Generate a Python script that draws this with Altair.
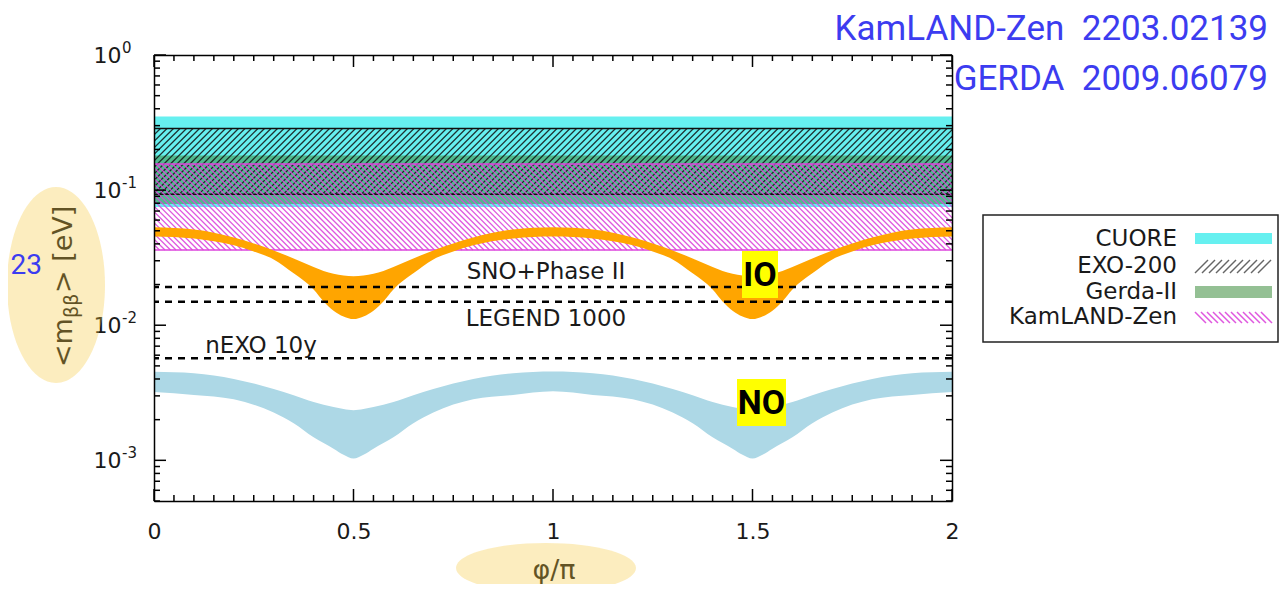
import altair as alt
import numpy as np
import pandas as pd

# ---------------- values ----------------
phi_io = [0.0, 0.1, 0.2, 0.25, 0.3, 0.35, 0.4, 0.425, 0.45, 0.475, 0.5,
          0.525, 0.55, 0.575, 0.6, 0.65, 0.7, 0.75, 0.8, 0.9, 1.0,
          1.1, 1.2, 1.25, 1.3, 1.35, 1.4, 1.425, 1.45, 1.475, 1.5,
          1.525, 1.55, 1.575, 1.6, 1.65, 1.7, 1.75, 1.8, 1.9, 2.0]
io_hi = [0.0530, 0.0511, 0.0446, 0.0403, 0.0358, 0.0312, 0.0270, 0.0252, 0.0240, 0.0233, 0.0230,
         0.0233, 0.0240, 0.0252, 0.0270, 0.0312, 0.0358, 0.0403, 0.0446, 0.0511, 0.0530,
         0.0511, 0.0446, 0.0403, 0.0358, 0.0312, 0.0270, 0.0252, 0.0240, 0.0233, 0.0230,
         0.0233, 0.0240, 0.0252, 0.0270, 0.0312, 0.0358, 0.0403, 0.0446, 0.0511, 0.0530]
io_lo = [0.0454, 0.0439, 0.0390, 0.0352, 0.0307, 0.0242, 0.0184, 0.0150, 0.0128, 0.0116, 0.0111,
         0.0116, 0.0128, 0.0150, 0.0184, 0.0242, 0.0307, 0.0352, 0.0390, 0.0439, 0.0454,
         0.0439, 0.0390, 0.0352, 0.0307, 0.0242, 0.0184, 0.0150, 0.0128, 0.0116, 0.0111,
         0.0116, 0.0128, 0.0150, 0.0184, 0.0242, 0.0307, 0.0352, 0.0390, 0.0439, 0.0454]

phi_no = [0.0, 0.1, 0.2, 0.3, 0.35, 0.4, 0.45, 0.475, 0.5, 0.525, 0.55, 0.6, 0.65, 0.7, 0.8, 0.9, 1.0,
          1.1, 1.2, 1.3, 1.35, 1.4, 1.45, 1.475, 1.5, 1.525, 1.55, 1.6, 1.65, 1.7, 1.8, 1.9, 2.0]
no_hi = [0.00452, 0.00441, 0.00400, 0.00337, 0.00303, 0.00270, 0.00248, 0.00240, 0.00235, 0.00240,
         0.00248, 0.00270, 0.00303, 0.00337, 0.00400, 0.00441, 0.00455,
         0.00441, 0.00400, 0.00337, 0.00303, 0.00270, 0.00248, 0.00240, 0.00235, 0.00240,
         0.00248, 0.00270, 0.00303, 0.00337, 0.00400, 0.00441, 0.00452]
no_lo = [0.00320, 0.00305, 0.00283, 0.00226, 0.00188, 0.00148, 0.00122, 0.00110, 0.00103, 0.00110,
         0.00122, 0.00148, 0.00188, 0.00226, 0.00283, 0.00305, 0.00325,
         0.00305, 0.00283, 0.00226, 0.00188, 0.00148, 0.00122, 0.00110, 0.00103, 0.00110,
         0.00122, 0.00148, 0.00188, 0.00226, 0.00283, 0.00305, 0.00320]

experiments = ["CUORE", "EXO-200", "Gerda-II", "KamLAND-Zen"]
band_lo = [0.075, 0.093, 0.079, 0.036]
band_hi = [0.35, 0.286, 0.18, 0.156]

sens_names = ["SNO+Phase II", "LEGEND 1000", "nEXO 10y"]
sens_values = [0.0192, 0.0149, 0.0057]

x_tick_labels = [0, 0.5, 1, 1.5, 2]
y_tick_labels = [0.001, 0.01, 0.1, 1]
y_tick_exponents = ["-3", "-2", "-1", "0"]

# ---------------- layout / style ----------------
W, H = 798, 446
PAD = {"left": 146, "top": 47, "right": 327, "bottom": 83}
YMIN, YMAX = 0.0005, 1.0
PX_PER_DEC = H / np.log10(YMAX / YMIN)
PX_PER_PHI = W / 2.0

C_CUORE = "#66f0f0"
C_GERDA = "#3c8c3c"
C_EXO = "#111111"
C_KAM = "#dc46dc"
BLUE = "#3c3cf0"
SANS = "DejaVu Sans"
NARROW = "Roboto"

xs = alt.Scale(domain=[0, 2], nice=False, zero=False)
ys = alt.Scale(type="log", domain=[YMIN, YMAX], nice=False)

x_tick_vals = [round(i * 0.05, 2) for i in range(41)]
y_tick_vals = [m * 10.0 ** e for e in (-4, -3, -2, -1) for m in range(1, 10) if m * 10.0 ** e >= YMIN * 0.999] + [1.0]


def frame_axis(orient):
    return alt.Axis(orient=orient, labels=False, title=None, grid=False, ticks=False,
                    domain=True, domainColor="black", domainWidth=1.5, zindex=1)


x_lab_axis = alt.Axis(orient="bottom", values=x_tick_labels, format="~g", ticks=False, domain=False,
                      grid=False, labelFont=SANS, labelFontSize=22, labelColor="#1a1a1a",
                      labelPadding=20, labelFlush=False, labelOverlap=False, title=None, zindex=0)
y_lab_axis = alt.Axis(orient="left", values=y_tick_labels, ticks=False, domain=False, grid=False,
                      labelExpr="'10'", labelFont=SANS, labelFontSize=22, labelColor="#1a1a1a",
                      labelPadding=33, labelFlush=False, labelOverlap=False, title=None, zindex=0)

bands = pd.DataFrame({"exp": experiments, "lo": band_lo, "hi": band_hi, "x0": 0.0, "x1": 2.0})


def band_rect(name, color, opacity, xaxis=None, yaxis=None):
    return alt.Chart(bands[bands.exp == name]).mark_rect(color=color, opacity=opacity).encode(
        x=alt.X("x0:Q", scale=xs, axis=xaxis), x2="x1:Q",
        y=alt.Y("lo:Q", scale=ys, axis=yaxis), y2="hi:Q")


def hatch(name, spacing_px, direction):
    lo = band_lo[experiments.index(name)]
    hi = band_hi[experiments.index(name)]
    dphi = np.log10(hi / lo) * PX_PER_DEC / PX_PER_PHI
    starts = np.arange(-dphi, 2.0 + dphi, spacing_px / PX_PER_PHI)
    if direction == "/":
        return pd.DataFrame({"x0": starts, "x1": starts + dphi, "y0": lo, "y1": hi})
    return pd.DataFrame({"x0": starts, "x1": starts + dphi, "y0": hi, "y1": lo})


def hatch_layer(df, color, opacity, width, xaxis=None, yaxis=None):
    return alt.Chart(df).mark_rule(color=color, strokeWidth=width, opacity=opacity, clip=True).encode(
        x=alt.X("x0:Q", scale=xs, axis=xaxis), x2="x1:Q",
        y=alt.Y("y0:Q", scale=ys, axis=yaxis), y2="y1:Q")


def border_rules(name, color):
    i = experiments.index(name)
    df = pd.DataFrame({"v": [band_lo[i], band_hi[i]]})
    return alt.Chart(df).mark_rule(color=color, strokeWidth=1.5).encode(
        y=alt.Y("v:Q", scale=ys, axis=None))


def ptext(txt, x, y, size, color="#1a1a1a", font=SANS, align="center", baseline="middle",
          weight="normal", angle=None):
    kw = dict(align=align, baseline=baseline, fontSize=size, font=font, color=color, fontWeight=weight)
    if angle is not None:
        kw["angle"] = angle
    return alt.Chart(pd.DataFrame({"t": [txt]})).mark_text(**kw).encode(
        x=alt.value(x), y=alt.value(y), text="t:N")


def prect(x, x2, y, y2, fill, opacity=1.0, stroke=None, sw=0):
    kw = dict(fill=fill, opacity=opacity)
    if stroke:
        kw.update(stroke=stroke, strokeWidth=sw)
    return alt.Chart(pd.DataFrame({"a": [0]})).mark_rect(**kw).encode(
        x=alt.value(x), x2=alt.value(x2), y=alt.value(y), y2=alt.value(y2))


def ellipse_path(a, b):
    k = 0.5523
    return (f"M {a} 0 C {a} {k*b} {k*a} {b} 0 {b} C {-k*a} {b} {-a} {k*b} {-a} 0 "
            f"C {-a} {-k*b} {-k*a} {-b} 0 {-b} C {k*a} {-b} {a} {-k*b} {a} 0 Z")


def ellipse(cx, cy, rx, ry):
    r = max(rx, ry)
    return alt.Chart(pd.DataFrame({"a": [0]})).mark_point(
        shape=ellipse_path(rx / r, ry / r), size=(2 * r) ** 2, filled=True, fill="#f5c83c",
        opacity=0.33, strokeWidth=0).encode(x=alt.value(cx), y=alt.value(cy))


# tick marks (inward, mirrored on all four sides)
xt = pd.DataFrame({"v": x_tick_vals})
xt["major"] = [abs(v * 2 - round(v * 2)) < 1e-6 for v in x_tick_vals]
yt = pd.DataFrame({"v": y_tick_vals})
yt["major"] = [abs(np.log10(v) - round(np.log10(v))) < 1e-6 for v in y_tick_vals]


def xticks(df, y0, y1):
    return alt.Chart(df).mark_rule(color="black", strokeWidth=1.5).encode(
        x=alt.X("v:Q", scale=xs, axis=None), y=alt.value(y0), y2=alt.value(y1))


def yticks(df, x0, x1):
    return alt.Chart(df).mark_rule(color="black", strokeWidth=1.5).encode(
        y=alt.Y("v:Q", scale=ys, axis=None), x=alt.value(x0), x2=alt.value(x1))


# ---------------- layers ----------------
layers = []
layers.append(band_rect("CUORE", C_CUORE, 1.0, x_lab_axis, y_lab_axis))
layers.append(band_rect("Gerda-II", C_GERDA, 0.55, frame_axis("bottom"), frame_axis("left")))
layers.append(hatch_layer(hatch("EXO-200", 6.5, "/"), C_EXO, 0.85, 1.3,
                          frame_axis("top"), frame_axis("right")))
layers.append(border_rules("EXO-200", "#111111"))
layers.append(hatch_layer(hatch("KamLAND-Zen", 5.5, "\\"), C_KAM, 0.9, 1.3))
layers.append(border_rules("KamLAND-Zen", C_KAM))

io_df = pd.DataFrame({"phi": phi_io, "lo": io_lo, "hi": io_hi})
no_df = pd.DataFrame({"phi": phi_no, "lo": no_lo, "hi": no_hi})
layers.append(alt.Chart(io_df).mark_area(color="#ffa500", opacity=1, interpolate="monotone").encode(
    x=alt.X("phi:Q", scale=xs, axis=None), y=alt.Y("lo:Q", scale=ys, axis=None), y2="hi:Q"))
layers.append(alt.Chart(no_df).mark_area(color="#add8e6", opacity=1, interpolate="monotone").encode(
    x=alt.X("phi:Q", scale=xs, axis=None), y=alt.Y("lo:Q", scale=ys, axis=None), y2="hi:Q"))

sens_df = pd.DataFrame({"name": sens_names, "v": sens_values})
layers.append(alt.Chart(sens_df).mark_rule(color="black", strokeWidth=2.5, strokeDash=[7, 6]).encode(
    y=alt.Y("v:Q", scale=ys, axis=None)))

# ticks
layers.append(xticks(xt[xt.major], H, H - 12))
layers.append(xticks(xt[~xt.major], H, H - 6))
layers.append(xticks(xt[xt.major], 0, 12))
layers.append(xticks(xt[~xt.major], 0, 6))
layers.append(yticks(yt[yt.major], 0, 12))
layers.append(yticks(yt[~yt.major], 0, 6))
layers.append(yticks(yt[yt.major], W, W - 12))
layers.append(yticks(yt[~yt.major], W, W - 6))

# exponents of the y tick labels (10^n)
exp_df = pd.DataFrame({"v": y_tick_labels, "e": y_tick_exponents})
layers.append(alt.Chart(exp_df).mark_text(align="left", baseline="middle", fontSize=15, font=SANS,
                                          color="#1a1a1a", dy=-7).encode(
    y=alt.Y("v:Q", scale=ys, axis=None), x=alt.value(-32), text="e:N"))

# experiment sensitivity labels
layers.append(ptext(sens_names[0], 392, 217, 23))
layers.append(ptext(sens_names[1], 392, 264, 23))
layers.append(ptext(sens_names[2], 107, 291, 23))

# IO / NO tags
layers.append(prect(588, 624, 196, 243, "#ffff00"))
layers.append(ptext("IO", 606, 221, 34, color="black", font=NARROW, weight="bold"))
layers.append(prect(583, 632, 324, 371, "#ffff00"))
layers.append(ptext("NO", 607.5, 349, 34, color="black", font=NARROW, weight="bold"))

# legend
layers.append(prect(829, 1124, 160, 287, "white", stroke="#222222", sw=1.5))
legend_y = [184, 211, 237, 262]
for name, yy in zip(experiments, legend_y):
    layers.append(ptext(name, 1023, yy, 23, align="right"))
layers.append(prect(1041, 1118, 178, 189, C_CUORE))
layers.append(prect(1041, 1118, 231, 243, C_GERDA, opacity=0.55))
exo_leg = pd.DataFrame({"px0": np.arange(1041, 1106, 7.0)})
exo_leg["px1"] = exo_leg.px0 + 13
exo_leg["py0"] = 218.0
exo_leg["py1"] = 205.0
kam_leg = pd.DataFrame({"px0": np.arange(1041, 1108, 6.0)})
kam_leg["px1"] = kam_leg.px0 + 11
kam_leg["py0"] = 257.0
kam_leg["py1"] = 268.0
for df, col in ((exo_leg, "#555555"), (kam_leg, C_KAM)):
    layers.append(alt.Chart(df).mark_rule(color=col, strokeWidth=1.5, opacity=0.9).encode(
        x=alt.X("px0:Q", scale=None, axis=None), x2="px1:Q",
        y=alt.Y("py0:Q", scale=None, axis=None), y2="py1:Q"))

# reference notes (top right)
layers.append(ptext("KamLAND-Zen\u00a0\u00a02203.02139", 1114, -26, 35, color=BLUE, font=NARROW, align="right"))
layers.append(ptext("GERDA\u00a0\u00a02009.06079", 1114, 24, 35, color=BLUE, font=NARROW, align="right"))

# axis titles (under the highlight ellipses)
layers.append(ptext("<m", -82, 312, 27, align="left", baseline="alphabetic", angle=270))
layers.append(ptext("ββ", -76, 263, 19, align="left", baseline="alphabetic", angle=270))
layers.append(ptext("> [eV]", -82, 238, 27, align="left", baseline="alphabetic", angle=270))
layers.append(ptext("φ/π", 400, 516, 27))
layers.append(ellipse(-98, 230, 49, 98))
layers.append(ellipse(392, 513, 90, 25))
layers.append(ptext("23", -112, 211, 28, color=BLUE, font=NARROW, align="right"))

chart = alt.layer(*layers).resolve_axis(x="independent", y="independent").properties(
    width=W, height=H, autosize=alt.AutoSizeParams(type="none"), padding=PAD
).configure_view(stroke=None)

chart.save("out.html", embed_options={"renderer": "svg", "actions": False})
